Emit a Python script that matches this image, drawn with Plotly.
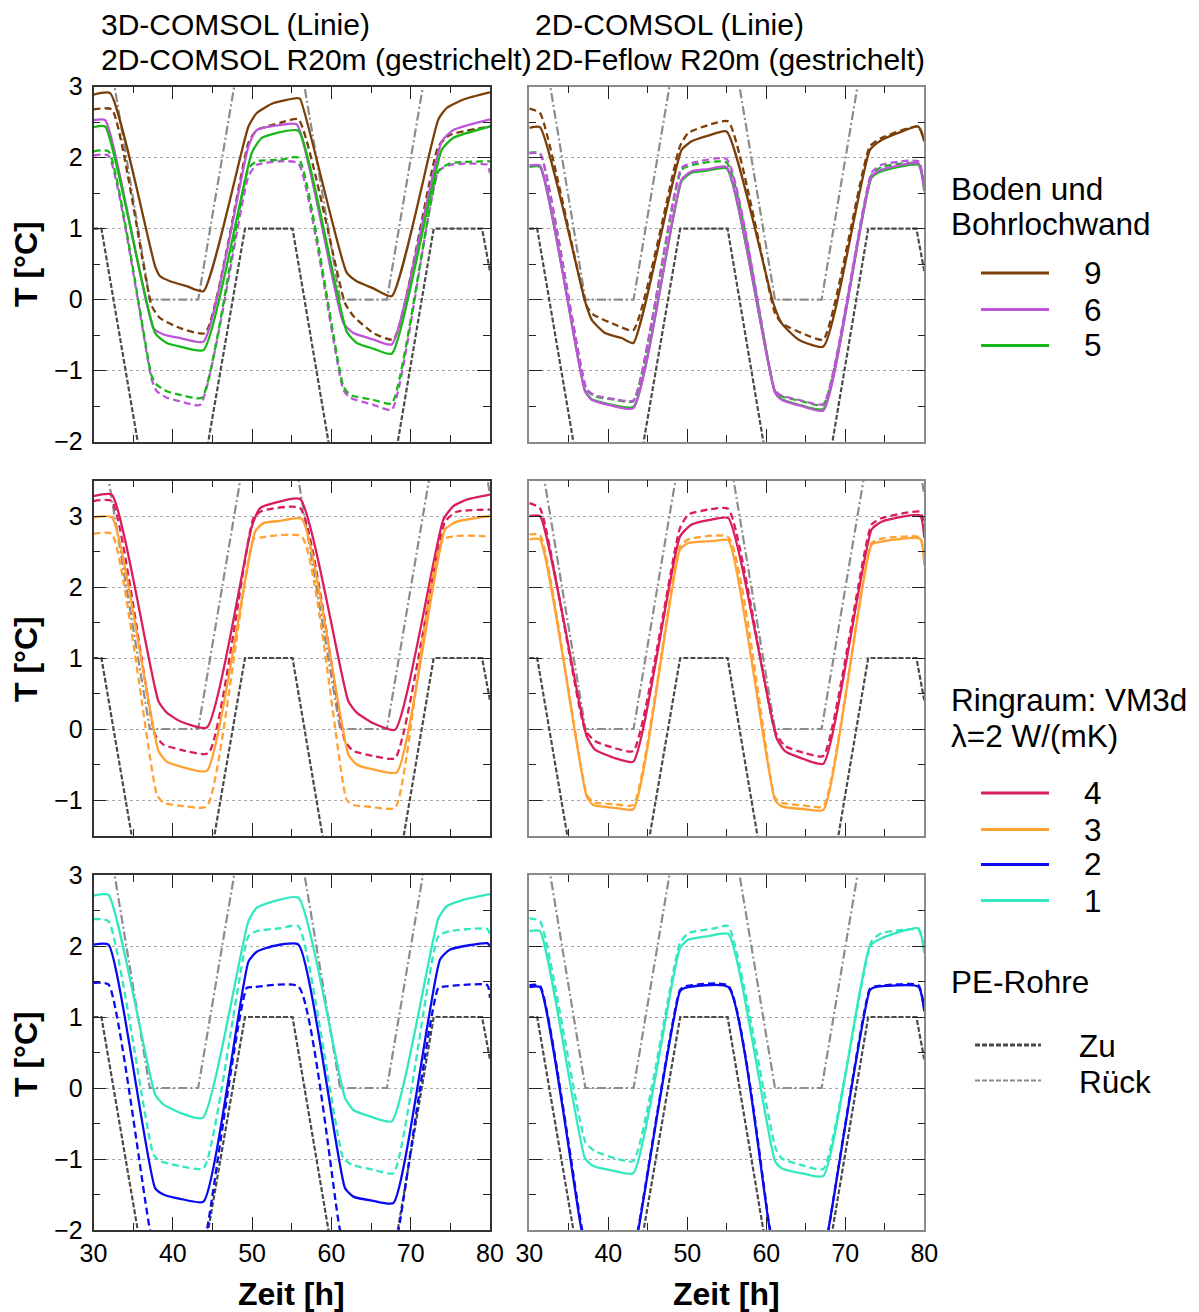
import plotly.graph_objects as go

# page body margin of the viewer is 8 px; the figure is placed inside it
OFF = 8
W, H = 1191, 1304

# ---------------- pipes (identical in all panels) ----------------
ZU_X = [30, 31.0, 40.0, 49.1, 55.1, 64.0, 72.9, 79.0, 80]
ZU_Y = [1, 1, -4.9, 1, 1, -4.9, 1, 1, 0.4]
RUECK_X = [30, 37.1, 43.2, 52.2, 61.1, 67.0, 76.0, 80]
RUECK_Y = [4.8, 0, 0, 5.95, 0, 0, 5.95, 3.3]

# ---------------- row 1, left: 3D-COMSOL (solid) / 2D-COMSOL R20m (dashed) ----------------
A_9S_X = [30, 32.1, 37.77, 38.4, 39.66, 41.76, 43.87, 49.54, 50.59, 52.69, 55.63, 56.05, 61.93, 63.19, 65.29, 67.61, 73.49, 74.54, 76.64, 80]
A_9S_Y = [2.89, 2.91, 0.47, 0.33, 0.26, 0.19, 0.12, 2.44, 2.63, 2.77, 2.84, 2.83, 0.38, 0.26, 0.16, 0.05, 2.54, 2.70, 2.82, 2.92]
A_9D_X = [30, 32.31, 37.35, 38.40, 40.92, 44.08, 49.54, 50.59, 53.53, 55.84, 61.72, 62.77, 65.29, 67.82, 73.49, 74.96, 80]
A_9D_Y = [2.68, 2.68, -0.09, -0.26, -0.40, -0.47, 2.21, 2.39, 2.49, 2.54, -0.05, -0.23, -0.47, -0.56, 2.16, 2.32, 2.44]
A_6S_X = [30, 31.47, 37.56, 38.82, 40.92, 43.87, 49.54, 50.59, 53.53, 55.63, 61.51, 62.77, 65.29, 67.61, 73.91, 75.38, 80]
A_6S_Y = [2.53, 2.53, -0.40, -0.49, -0.54, -0.59, 2.16, 2.39, 2.46, 2.47, -0.33, -0.47, -0.56, -0.63, 2.23, 2.39, 2.54]
A_6D_X = [30, 31.89, 37.35, 37.98, 39.24, 40.92, 43.45, 49.54, 50.59, 53.53, 55.84, 61.51, 62.35, 65.29, 67.61, 73.49, 74.96, 79.66, 80]
A_6D_Y = [2.03, 2.03, -1.13, -1.29, -1.38, -1.43, -1.48, 1.74, 1.90, 1.95, 1.92, -1.27, -1.38, -1.48, -1.55, 1.81, 1.90, 1.90, 1.78]
A_5S_X = [30, 31.47, 37.77, 39.24, 40.92, 43.87, 49.96, 51.22, 53.53, 55.84, 61.93, 63.19, 65.29, 67.61, 73.91, 75.38, 80]
A_5S_Y = [2.43, 2.44, -0.47, -0.61, -0.66, -0.71, 2.07, 2.28, 2.36, 2.38, -0.45, -0.61, -0.69, -0.76, 2.11, 2.28, 2.44]
A_5D_X = [30, 31.89, 37.35, 37.98, 39.24, 40.92, 43.66, 49.54, 50.59, 53.53, 55.84, 61.51, 62.35, 65.29, 67.61, 73.49, 74.96, 80]
A_5D_Y = [2.09, 2.09, -1.08, -1.20, -1.29, -1.34, -1.38, 1.85, 1.95, 1.97, 2.00, -1.22, -1.34, -1.41, -1.46, 1.81, 1.92, 1.95]

# ---------------- row 1, right: 2D-COMSOL (solid) / 2D-Feflow R20m (dashed) ----------------
B_9S_X = [30, 31.35, 37.05, 37.89, 39.58, 41.69, 43.16, 49.28, 50.55, 52.66, 54.98, 60.89, 61.94, 64.05, 67.22, 73.12, 74.60, 76.71, 79.24, 80]
B_9S_Y = [2.42, 2.43, -0.02, -0.28, -0.47, -0.54, -0.61, 2.11, 2.23, 2.31, 2.37, -0.05, -0.33, -0.56, -0.66, 2.11, 2.25, 2.35, 2.44, 2.23]
B_9D_X = [30, 31.35, 37.26, 38.10, 40.84, 43.16, 49.07, 50.13, 52.66, 55.19, 61.10, 61.94, 64.89, 67.22, 73.12, 74.60, 79.24, 80]
B_9D_Y = [2.69, 2.63, -0.09, -0.21, -0.35, -0.43, 2.16, 2.35, 2.46, 2.51, -0.19, -0.33, -0.49, -0.56, 2.16, 2.28, 2.44, 2.25]
B_6S_X = [30, 31.35, 37.05, 37.89, 40.0, 43.16, 49.28, 50.55, 52.66, 54.98, 61.10, 61.94, 64.47, 67.22, 73.33, 74.60, 79.24, 80]
B_6S_Y = [1.89, 1.89, -1.29, -1.41, -1.48, -1.53, 1.69, 1.81, 1.84, 1.87, -1.31, -1.41, -1.50, -1.56, 1.74, 1.83, 1.92, 1.55]
B_6D_X = [30, 31.35, 37.26, 38.31, 40.84, 43.16, 49.28, 50.76, 54.98, 61.10, 61.94, 64.47, 67.22, 73.33, 74.60, 79.24, 80]
B_6D_Y = [2.06, 2.06, -1.26, -1.35, -1.40, -1.42, 1.86, 1.93, 1.98, -1.28, -1.35, -1.42, -1.47, 1.79, 1.90, 1.95, 1.62]
B_5S_X = [30, 31.35, 37.05, 37.89, 40.0, 43.16, 49.28, 50.55, 52.66, 54.98, 61.10, 61.94, 64.47, 67.22, 73.33, 74.60, 79.24, 80]
B_5S_Y = [1.87, 1.87, -1.28, -1.40, -1.47, -1.51, 1.67, 1.79, 1.82, 1.85, -1.30, -1.40, -1.49, -1.54, 1.72, 1.81, 1.90, 1.53]
B_5D_X = [30, 31.35, 37.26, 38.31, 40.84, 43.16, 49.28, 50.76, 54.98, 61.10, 61.94, 64.47, 67.22, 73.33, 74.60, 79.24, 80]
B_5D_Y = [2.07, 2.06, -1.27, -1.36, -1.41, -1.43, 1.83, 1.90, 1.93, -1.29, -1.36, -1.43, -1.48, 1.76, 1.87, 1.92, 1.60]

# ---------------- row 2, left ----------------
C_4S_X = [30, 32.31, 38.19, 39.24, 40.92, 44.29, 49.96, 51.01, 52.69, 56.05, 62.14, 63.19, 65.29, 68.03, 74.12, 75.38, 77.06, 80]
C_4S_Y = [3.28, 3.30, 0.39, 0.23, 0.11, 0.02, 2.85, 3.11, 3.18, 3.24, 0.39, 0.23, 0.08, -0.01, 2.95, 3.14, 3.23, 3.30]
C_4D_X = [30, 32.31, 37.77, 38.82, 40.92, 44.50, 50.17, 51.22, 56.05, 61.72, 62.77, 65.29, 68.03, 74.33, 75.80, 80]
C_4D_Y = [3.21, 3.21, -0.08, -0.22, -0.29, -0.34, 2.97, 3.07, 3.11, -0.17, -0.31, -0.38, -0.41, 2.92, 3.06, 3.09]
C_3S_X = [30, 32.31, 38.19, 39.24, 41.34, 44.29, 50.38, 51.43, 53.53, 56.26, 62.14, 63.19, 65.29, 68.24, 74.33, 75.80, 80]
C_3S_Y = [2.98, 2.98, -0.31, -0.46, -0.54, -0.59, 2.78, 2.90, 2.93, 2.96, -0.36, -0.50, -0.57, -0.61, 2.81, 2.92, 3.00]
C_3D_X = [30, 32.31, 37.98, 38.82, 40.92, 44.29, 50.17, 51.22, 56.26, 61.93, 62.77, 65.29, 68.03, 74.12, 80]
C_3D_Y = [2.75, 2.75, -0.92, -1.04, -1.08, -1.09, 2.67, 2.70, 2.71, -1.00, -1.07, -1.10, -1.11, 2.67, 2.71]

# ---------------- row 2, right ----------------
D_4S_X = [30, 31.35, 37.26, 38.31, 40.84, 43.16, 49.07, 50.55, 53.08, 55.19, 61.31, 62.36, 64.89, 67.22, 73.33, 74.60, 79.45, 80]
D_4S_Y = [3.00, 3.00, -0.10, -0.29, -0.41, -0.46, 2.71, 2.88, 2.95, 2.97, -0.13, -0.31, -0.43, -0.49, 2.81, 2.92, 3.01, 2.69]
D_4D_X = [30, 31.35, 37.05, 38.31, 40.84, 43.16, 49.07, 50.13, 52.66, 55.19, 61.10, 62.36, 64.89, 67.22, 73.33, 74.60, 79.45, 80]
D_4D_Y = [3.18, 3.11, -0.01, -0.17, -0.27, -0.31, 2.83, 3.02, 3.09, 3.10, -0.03, -0.24, -0.34, -0.38, 2.88, 2.97, 3.06, 2.88]
D_3S_X = [30, 31.35, 37.26, 38.10, 40.84, 43.16, 49.07, 50.13, 53.50, 55.19, 61.10, 61.94, 64.89, 67.22, 73.33, 74.60, 79.45, 80]
D_3S_Y = [2.67, 2.67, -0.95, -1.07, -1.11, -1.13, 2.53, 2.62, 2.65, 2.66, -1.00, -1.09, -1.13, -1.14, 2.60, 2.64, 2.68, 2.31]
D_3D_X = [30, 31.35, 37.26, 38.10, 40.84, 43.16, 49.07, 50.13, 55.19, 61.10, 61.94, 64.89, 67.22, 73.33, 74.60, 79.45, 80]
D_3D_Y = [2.74, 2.73, -0.92, -1.03, -1.06, -1.07, 2.57, 2.67, 2.70, -0.97, -1.04, -1.08, -1.09, 2.62, 2.68, 2.70, 2.36]

# ---------------- row 3, left ----------------
E_1S_X = [30, 31.89, 37.77, 38.82, 40.92, 43.78, 49.54, 50.59, 52.69, 55.84, 61.72, 62.77, 64.87, 67.61, 73.49, 74.54, 76.64, 80]
E_1S_Y = [2.71, 2.72, -0.09, -0.23, -0.35, -0.42, 2.35, 2.54, 2.63, 2.68, -0.14, -0.31, -0.40, -0.47, 2.39, 2.56, 2.65, 2.73]
E_1D_X = [30, 31.89, 37.56, 38.40, 40.92, 43.87, 49.54, 50.59, 53.53, 55.84, 61.51, 62.56, 65.29, 67.82, 73.49, 74.96, 79.66, 80]
E_1D_Y = [2.38, 2.35, -0.94, -1.03, -1.10, -1.13, 2.14, 2.21, 2.25, 2.28, -0.99, -1.08, -1.15, -1.20, 2.14, 2.21, 2.24, 2.16]
E_2S_X = [30, 31.89, 37.77, 38.82, 40.92, 43.87, 49.54, 50.59, 52.69, 55.84, 61.72, 62.77, 65.29, 67.82, 73.70, 74.96, 79.66, 80]
E_2S_Y = [2.02, 2.02, -1.41, -1.50, -1.56, -1.60, 1.78, 1.92, 2.00, 2.02, -1.41, -1.53, -1.59, -1.62, 1.81, 1.95, 2.04, 2.00]
E_2D_X = [30, 31.89, 37.14, 37.98, 43.45, 44.29, 49.33, 50.17, 55.84, 61.09, 61.93, 67.61, 68.45, 73.49, 74.33, 79.66, 80]
E_2D_Y = [1.48, 1.46, -2.00, -2.25, -2.30, -2.00, 1.41, 1.42, 1.43, -2.00, -2.25, -2.30, -2.00, 1.41, 1.43, 1.45, 1.27]

# ---------------- row 3, right ----------------
F_1S_X = [30, 31.35, 37.05, 38.10, 40.84, 43.16, 49.07, 50.13, 52.66, 55.19, 61.10, 61.94, 64.89, 67.22, 73.12, 74.60, 79.24, 80]
F_1S_Y = [2.21, 2.21, -0.99, -1.10, -1.17, -1.20, 1.97, 2.09, 2.14, 2.17, -1.03, -1.13, -1.21, -1.24, 2.00, 2.11, 2.25, 1.90]
F_1D_X = [30, 31.35, 37.13, 38.31, 40.84, 43.16, 49.07, 50.13, 53.50, 55.19, 61.18, 61.94, 64.89, 67.22, 73.33, 74.60, 79.24, 80]
F_1D_Y = [2.39, 2.35, -0.77, -0.89, -0.99, -1.03, 2.04, 2.18, 2.25, 2.28, -0.85, -0.99, -1.10, -1.14, 2.07, 2.18, 2.23, 1.97]
F_2S_X = [30, 31.35, 36.62, 37.26, 43.16, 43.80, 49.07, 49.70, 55.19, 60.46, 61.10, 67.22, 67.85, 73.12, 73.76, 79.24, 80]
F_2S_Y = [1.42, 1.42, -2.00, -2.20, -2.30, -2.00, 1.36, 1.41, 1.42, -2.00, -2.20, -2.30, -2.00, 1.38, 1.42, 1.43, 1.08]
F_2D_X = [30, 31.35, 36.70, 37.30, 43.10, 43.75, 49.07, 49.70, 55.19, 60.50, 61.10, 67.20, 67.85, 73.12, 73.76, 79.24, 80]
F_2D_Y = [1.45, 1.44, -2.00, -2.20, -2.30, -2.00, 1.38, 1.43, 1.44, -2.00, -2.20, -2.30, -2.00, 1.40, 1.43, 1.45, 1.10]

# ---------------- styling ----------------
C9, C6, C5 = '#7B3F0A', '#BD55D9', '#17B817'
C4, C3, C2, C1 = '#D81E5B', '#FFA133', '#0A0AF0', '#33E8BE'
ZU_C, RUECK_C = '#4A4A4A', '#8C8C8C'
FONT = 'Liberation Sans, Arial, sans-serif'
LW = 2.3
DASH = '7px,4px'
ZU_DASH = '5px,2px'
RUECK_DASH = '9px,3px,2px,3px'

panels = {
    (0, 0): [(A_9S_X, A_9S_Y, C9, 'solid'), (A_9D_X, A_9D_Y, C9, DASH),
             (A_6S_X, A_6S_Y, C6, 'solid'), (A_6D_X, A_6D_Y, C6, DASH),
             (A_5S_X, A_5S_Y, C5, 'solid'), (A_5D_X, A_5D_Y, C5, DASH)],
    (0, 1): [(B_9S_X, B_9S_Y, C9, 'solid'), (B_9D_X, B_9D_Y, C9, DASH),
             (B_5S_X, B_5S_Y, C5, 'solid'), (B_5D_X, B_5D_Y, C5, DASH),
             (B_6S_X, B_6S_Y, C6, 'solid'), (B_6D_X, B_6D_Y, C6, DASH)],
    (1, 0): [(C_4S_X, C_4S_Y, C4, 'solid'), (C_4D_X, C_4D_Y, C4, DASH),
             (C_3S_X, C_3S_Y, C3, 'solid'), (C_3D_X, C_3D_Y, C3, DASH)],
    (1, 1): [(D_4S_X, D_4S_Y, C4, 'solid'), (D_4D_X, D_4D_Y, C4, DASH),
             (D_3S_X, D_3S_Y, C3, 'solid'), (D_3D_X, D_3D_Y, C3, DASH)],
    (2, 0): [(E_1S_X, E_1S_Y, C1, 'solid'), (E_1D_X, E_1D_Y, C1, DASH),
             (E_2S_X, E_2S_Y, C2, 'solid'), (E_2D_X, E_2D_Y, C2, DASH)],
    (2, 1): [(F_1S_X, F_1S_Y, C1, 'solid'), (F_1D_X, F_1D_Y, C1, DASH),
             (F_2S_X, F_2S_Y, C2, 'solid'), (F_2D_X, F_2D_Y, C2, DASH)],
}


def px(x):
    return (x - OFF) / W


def py(y):
    return 1 - (y - OFF) / H


XDOM = {0: [px(93.5), px(490)], 1: [px(529.3), px(924.3)]}
YTOP = {0: 86.7, 1: 480.5, 2: 875.0}
YBOT = {0: 441.7, 1: 835.5, 2: 1230.0}
YRANGE = {0: [-2, 3], 1: [-1.5, 3.5], 2: [-2, 3]}

fig = go.Figure()
layout = {}
for (r, c), series in panels.items():
    i = r * 2 + c + 1
    xs = 'x' if i == 1 else f'x{i}'
    ys = 'y' if i == 1 else f'y{i}'
    xk = 'xaxis' if i == 1 else f'xaxis{i}'
    yk = 'yaxis' if i == 1 else f'yaxis{i}'
    frame = '#333333' if c == 0 else '#8a8a8a'
    fig.add_trace(go.Scatter(x=ZU_X, y=ZU_Y, mode='lines', xaxis=xs, yaxis=ys, showlegend=False,
                             line=dict(color=ZU_C, width=2.2, dash=ZU_DASH)))
    fig.add_trace(go.Scatter(x=RUECK_X, y=RUECK_Y, mode='lines', xaxis=xs, yaxis=ys, showlegend=False,
                             line=dict(color=RUECK_C, width=2.2, dash=RUECK_DASH)))
    for xv, yv, col, dash in series:
        fig.add_trace(go.Scatter(x=xv, y=yv, mode='lines', xaxis=xs, yaxis=ys, showlegend=False,
                                 line=dict(color=col, width=LW, dash=dash, shape='spline', smoothing=0.5)))
    layout[xk] = dict(domain=XDOM[c], range=[30, 80], anchor=ys, tick0=30, dtick=10, automargin=False,
                      ticks='inside', ticklen=13, tickwidth=1.3, tickcolor='#222',
                      showline=True, linecolor=frame, linewidth=1.5, mirror='allticks',
                      showgrid=False, zeroline=False, showticklabels=(r == 2),
                      tickfont=dict(size=25, color='black', family=FONT),
                      minor=dict(ticks='inside', ticklen=7, tick0=30, dtick=5, tickcolor='#222',
                                 tickwidth=1.3, showgrid=False))
    layout[yk] = dict(domain=[py(YBOT[r]), py(YTOP[r])], range=YRANGE[r], anchor=xs, automargin=False,
                      tick0=0, dtick=1, ticks='inside', ticklen=13, tickwidth=1.3, tickcolor='#222',
                      showline=True, linecolor=frame, linewidth=1.5, mirror='allticks',
                      showgrid=True, gridcolor='#a8a8a8', griddash='dot', gridwidth=1,
                      zeroline=False, showticklabels=(c == 0), ticklabelstandoff=4,
                      tickfont=dict(size=25, color='black', family=FONT),
                      minor=dict(ticks='inside', ticklen=7, tick0=0, dtick=0.5, tickcolor='#222',
                                 tickwidth=1.3, showgrid=False))

annotations = []


def text(x, y, s, size=28, bold=False, anchor='left', angle=0):
    annotations.append(dict(x=px(x), y=py(y), xref='paper', yref='paper', text=f'<b>{s}</b>' if bold else s,
                            showarrow=False, xanchor=anchor, yanchor='middle', textangle=angle, borderpad=0,
                            font=dict(size=size, color='black', family=FONT)))


# column headers
text(100, 25, '3D-COMSOL (Linie)', 30)
text(100, 59, '2D-COMSOL R20m (gestrichelt)', 30)
text(534, 25, '2D-COMSOL (Linie)', 30)
text(534, 59, '2D-Feflow R20m (gestrichelt)', 30)

# axis titles
for yc in (264, 659, 1054):
    text(26, yc, 'T [°C]', 32, bold=True, anchor='center', angle=-90)
text(291, 1294, 'Zeit [h]', 32, bold=True, anchor='center')
text(726, 1294, 'Zeit [h]', 32, bold=True, anchor='center')

# legend groups
shapes = []


def leg_line(x0, x1, y, col, width=3.2, dash='solid'):
    shapes.append(dict(type='line', xref='paper', yref='paper', x0=px(x0), x1=px(x1), y0=py(y), y1=py(y),
                       line=dict(color=col, width=width, dash=dash)))


LF = 31.5
text(950, 189, 'Boden und', LF)
text(950, 224, 'Bohrlochwand', LF)
for lab, col, y in (('9', C9, 273), ('6', C6, 309.5), ('5', C5, 345.5)):
    leg_line(981, 1049, y, col)
    text(1093, y, lab, LF, anchor='center')

text(950, 700, 'Ringraum: VM3d', LF)
text(950, 736, 'λ=2 W/(mK)', LF)
for lab, col, y in (('4', C4, 793), ('3', C3, 829.5), ('2', C2, 864.5), ('1', C1, 900.5)):
    leg_line(981, 1049, y, col)
    text(1093, y, lab, LF, anchor='center')

text(950, 982, 'PE-Rohre', LF)
leg_line(975, 1041, 1045, ZU_C, 3, '5px,2px')
text(1078, 1046, 'Zu', LF)
leg_line(975, 1041, 1080.5, RUECK_C, 2.2, '5px,2px')
text(1078, 1082, 'Rück', LF)

fig.update_layout(width=W, height=H, margin=dict(l=0, r=0, t=0, b=0, pad=0, autoexpand=False),
                  paper_bgcolor='white', plot_bgcolor='white', showlegend=False,
                  font=dict(family=FONT, color='black'),
                  annotations=annotations, shapes=shapes, **layout)

fig.write_html('out.html')
